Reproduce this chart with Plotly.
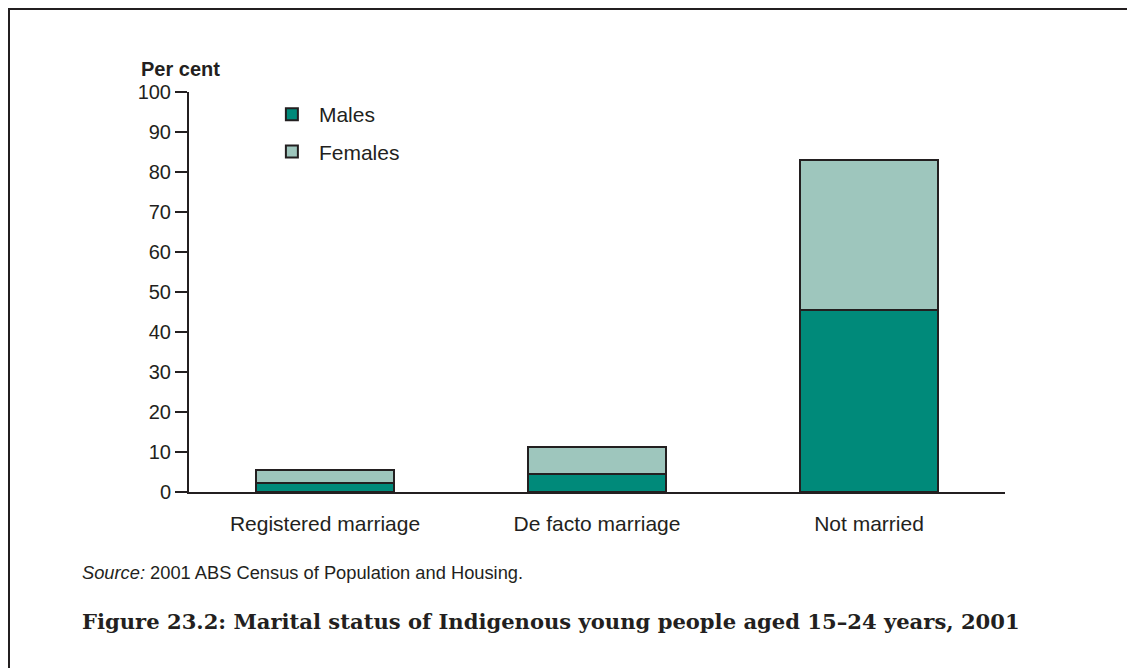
import plotly.graph_objects as go

# marital status, Indigenous people aged 15-24, 2001 (per cent)
categories = ["Registered marriage", "De facto marriage", "Not married"]
males = [2.2, 4.6, 45.4]
females = [3.3, 6.7, 37.6]
y_ticks = [0, 10, 20, 30, 40, 50, 60, 70, 80, 90, 100]

MALE_COL = "#008A7A"
FEMALE_COL = "#9EC6BD"
INK = "#231F20"
FONT = "Liberation Sans, Arial, sans-serif"

fig = go.Figure()
fig.add_trace(go.Bar(x=categories, y=males, name="Males", legendgroup="m",
                     marker=dict(color=MALE_COL, line=dict(color=INK, width=2))))
fig.add_trace(go.Bar(x=categories, y=females, name="Females", legendgroup="f",
                     marker=dict(color=FEMALE_COL, line=dict(color=INK, width=2))))

# the page body adds an 8px offset, so size and margins are shifted to compensate
fig.update_layout(
    width=1127, height=660,
    margin=dict(l=181, r=130, t=84, b=176),
    barmode="stack", bargap=0.495,
    paper_bgcolor="white", plot_bgcolor="white",
    font=dict(family=FONT, size=20, color=INK),
    showlegend=True,
    legend=dict(x=0.093, y=0.995, xanchor="left", yanchor="top",
                traceorder="grouped", tracegroupgap=7,
                font=dict(size=21), itemwidth=44,
                bgcolor="rgba(0,0,0,0)"),
    xaxis=dict(range=[-0.5, 2.5], showline=True, linecolor=INK, linewidth=2,
               ticks="", showgrid=False, tickfont=dict(size=21), ticklabelstandoff=12),
    yaxis=dict(range=[0, 100], tickvals=y_ticks, showline=True, linecolor=INK,
               linewidth=2, ticks="outside", ticklen=12, tickcolor=INK, tickwidth=1.5,
               showgrid=False, zeroline=False, tickfont=dict(size=20)),
)

# page frame (top and left rules)
fig.add_shape(type="line", xref="paper", yref="paper", x0=-0.2212, x1=1.2,
              y0=1.2088, y1=1.2088, line=dict(color=INK, width=3))
fig.add_shape(type="line", xref="paper", yref="paper", x0=-0.2212, x1=-0.2212,
              y0=1.21, y1=-0.5, line=dict(color=INK, width=3))

fig.add_annotation(text="<b>Per cent</b>", xref="paper", yref="paper",
                   x=-0.0104, y=1.0575, xanchor="center", yanchor="middle",
                   showarrow=False, font=dict(size=20, color=INK))
fig.add_annotation(text="<i>Source:</i> 2001 ABS Census of Population and Housing.",
                   xref="paper", yref="paper", x=-0.1335, y=-0.2, xanchor="left",
                   yanchor="middle", showarrow=False, font=dict(size=18.3, color=INK))
fig.add_annotation(text="<b>Figure 23.2: Marital status of Indigenous young people aged 15\u201324 years, 2001</b>",
                   xref="paper", yref="paper", x=-0.1335, y=-0.3225, xanchor="left",
                   yanchor="middle", showarrow=False,
                   font=dict(family="DejaVu Serif, serif", size=21.1, color=INK))

fig.write_html("out.html")
